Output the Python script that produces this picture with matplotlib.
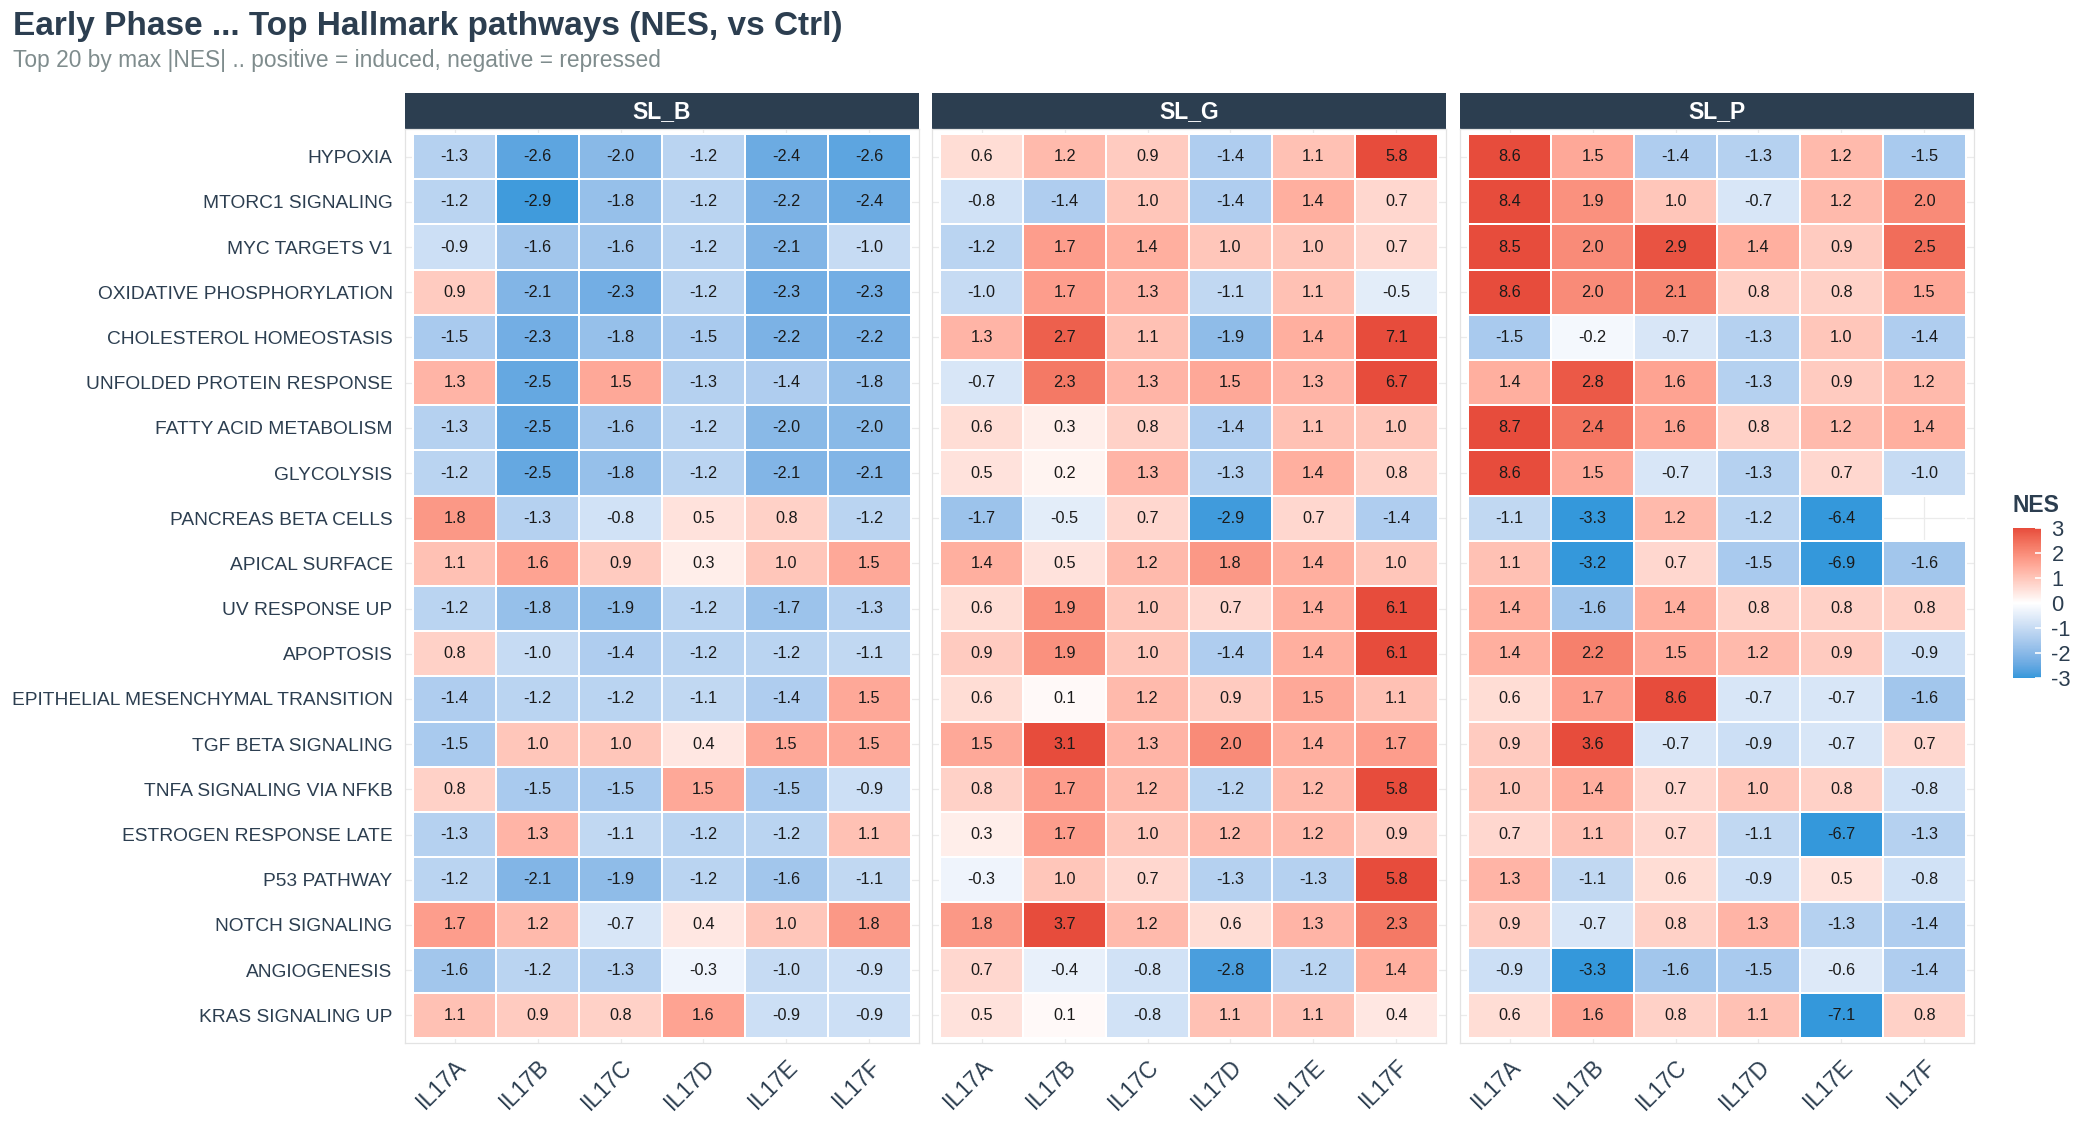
import numpy as np
import matplotlib
matplotlib.use("Agg")
import matplotlib.pyplot as plt
from matplotlib.colors import ListedColormap, Normalize
from matplotlib.patches import Rectangle
from matplotlib.cm import ScalarMappable

plt.rcParams['font.family'] = ['Liberation Sans', 'DejaVu Sans']
plt.rcParams['axes.unicode_minus'] = False

pathways = ["HYPOXIA", "MTORC1 SIGNALING", "MYC TARGETS V1", "OXIDATIVE PHOSPHORYLATION",
            "CHOLESTEROL HOMEOSTASIS", "UNFOLDED PROTEIN RESPONSE", "FATTY ACID METABOLISM",
            "GLYCOLYSIS", "PANCREAS BETA CELLS", "APICAL SURFACE", "UV RESPONSE UP",
            "APOPTOSIS", "EPITHELIAL MESENCHYMAL TRANSITION", "TGF BETA SIGNALING",
            "TNFA SIGNALING VIA NFKB", "ESTROGEN RESPONSE LATE", "P53 PATHWAY",
            "NOTCH SIGNALING", "ANGIOGENESIS", "KRAS SIGNALING UP"]
genes = ["IL17A", "IL17B", "IL17C", "IL17D", "IL17E", "IL17F"]
panels = ["SL_B", "SL_G", "SL_P"]

sl_b = [[-1.3, -2.6, -2.0, -1.2, -2.4, -2.6],
        [-1.2, -2.9, -1.8, -1.2, -2.2, -2.4],
        [-0.9, -1.6, -1.6, -1.2, -2.1, -1.0],
        [0.9, -2.1, -2.3, -1.2, -2.3, -2.3],
        [-1.5, -2.3, -1.8, -1.5, -2.2, -2.2],
        [1.3, -2.5, 1.5, -1.3, -1.4, -1.8],
        [-1.3, -2.5, -1.6, -1.2, -2.0, -2.0],
        [-1.2, -2.5, -1.8, -1.2, -2.1, -2.1],
        [1.8, -1.3, -0.8, 0.5, 0.8, -1.2],
        [1.1, 1.6, 0.9, 0.3, 1.0, 1.5],
        [-1.2, -1.8, -1.9, -1.2, -1.7, -1.3],
        [0.8, -1.0, -1.4, -1.2, -1.2, -1.1],
        [-1.4, -1.2, -1.2, -1.1, -1.4, 1.5],
        [-1.5, 1.0, 1.0, 0.4, 1.5, 1.5],
        [0.8, -1.5, -1.5, 1.5, -1.5, -0.9],
        [-1.3, 1.3, -1.1, -1.2, -1.2, 1.1],
        [-1.2, -2.1, -1.9, -1.2, -1.6, -1.1],
        [1.7, 1.2, -0.7, 0.4, 1.0, 1.8],
        [-1.6, -1.2, -1.3, -0.3, -1.0, -0.9],
        [1.1, 0.9, 0.8, 1.6, -0.9, -0.9]]

sl_g = [[0.6, 1.2, 0.9, -1.4, 1.1, 5.8],
        [-0.8, -1.4, 1.0, -1.4, 1.4, 0.7],
        [-1.2, 1.7, 1.4, 1.0, 1.0, 0.7],
        [-1.0, 1.7, 1.3, -1.1, 1.1, -0.5],
        [1.3, 2.7, 1.1, -1.9, 1.4, 7.1],
        [-0.7, 2.3, 1.3, 1.5, 1.3, 6.7],
        [0.6, 0.3, 0.8, -1.4, 1.1, 1.0],
        [0.5, 0.2, 1.3, -1.3, 1.4, 0.8],
        [-1.7, -0.5, 0.7, -2.9, 0.7, -1.4],
        [1.4, 0.5, 1.2, 1.8, 1.4, 1.0],
        [0.6, 1.9, 1.0, 0.7, 1.4, 6.1],
        [0.9, 1.9, 1.0, -1.4, 1.4, 6.1],
        [0.6, 0.1, 1.2, 0.9, 1.5, 1.1],
        [1.5, 3.1, 1.3, 2.0, 1.4, 1.7],
        [0.8, 1.7, 1.2, -1.2, 1.2, 5.8],
        [0.3, 1.7, 1.0, 1.2, 1.2, 0.9],
        [-0.3, 1.0, 0.7, -1.3, -1.3, 5.8],
        [1.8, 3.7, 1.2, 0.6, 1.3, 2.3],
        [0.7, -0.4, -0.8, -2.8, -1.2, 1.4],
        [0.5, 0.1, -0.8, 1.1, 1.1, 0.4]]

sl_p = [[8.6, 1.5, -1.4, -1.3, 1.2, -1.5],
        [8.4, 1.9, 1.0, -0.7, 1.2, 2.0],
        [8.5, 2.0, 2.9, 1.4, 0.9, 2.5],
        [8.6, 2.0, 2.1, 0.8, 0.8, 1.5],
        [-1.5, -0.2, -0.7, -1.3, 1.0, -1.4],
        [1.4, 2.8, 1.6, -1.3, 0.9, 1.2],
        [8.7, 2.4, 1.6, 0.8, 1.2, 1.4],
        [8.6, 1.5, -0.7, -1.3, 0.7, -1.0],
        [-1.1, -3.3, 1.2, -1.2, -6.4, np.nan],
        [1.1, -3.2, 0.7, -1.5, -6.9, -1.6],
        [1.4, -1.6, 1.4, 0.8, 0.8, 0.8],
        [1.4, 2.2, 1.5, 1.2, 0.9, -0.9],
        [0.6, 1.7, 8.6, -0.7, -0.7, -1.6],
        [0.9, 3.6, -0.7, -0.9, -0.7, 0.7],
        [1.0, 1.4, 0.7, 1.0, 0.8, -0.8],
        [0.7, 1.1, 0.7, -1.1, -6.7, -1.3],
        [1.3, -1.1, 0.6, -0.9, 0.5, -0.8],
        [0.9, -0.7, 0.8, 1.3, -1.3, -1.4],
        [-0.9, -3.3, -1.6, -1.5, -0.6, -1.4],
        [0.6, 1.6, 0.8, 1.1, -7.1, 0.8]]

DARK = "#2C3E50"

# diverging ramp blue - white - red, interpolated in Lab like ggplot
M = np.array([[0.4124, 0.3576, 0.1805],
              [0.2126, 0.7152, 0.0722],
              [0.0193, 0.1192, 0.9505]])
WHITE = np.array([0.95047, 1.0, 1.08883])
D = 6 / 29


def to_lab(hexcol):
    rgb = np.array([int(hexcol[i:i + 2], 16) for i in (1, 3, 5)]) / 255
    c = np.where(rgb <= 0.04045, rgb / 12.92, ((rgb + 0.055) / 1.055) ** 2.4)
    xyz = M @ c / WHITE
    f = np.where(xyz > D ** 3, np.cbrt(xyz), xyz / (3 * D ** 2) + 4 / 29)
    return np.array([116 * f[1] - 16, 500 * (f[0] - f[1]), 200 * (f[1] - f[2])])


def from_lab(lab):
    fy = (lab[0] + 16) / 116
    f = np.array([fy + lab[1] / 500, fy, fy - lab[2] / 200])
    xyz = np.where(f > D, f ** 3, 3 * D ** 2 * (f - 4 / 29)) * WHITE
    c = np.linalg.solve(M, xyz)
    rgb = np.where(c <= 0.0031308, 12.92 * c, 1.055 * np.clip(c, 0, None) ** (1 / 2.4) - 0.055)
    return np.clip(rgb, 0, 1)


low, mid, high = to_lab("#3498DB"), to_lab("#FFFFFF"), to_lab("#E74C3C")
ramp = []
for t in np.linspace(-1, 1, 256):
    end = low if t < 0 else high
    ramp.append(from_lab(mid + abs(t) * (end - mid)))
cmap = ListedColormap(ramp)
norm = Normalize(-3, 3)

fig = plt.figure(figsize=(14, 7.5), dpi=150)

W, H = 2100, 1125
lefts = [405, 932, 1460]
pw = 514
ptop, pbot = 129.5, 1042.5
strip_h = 36

for k, (name, vals) in enumerate(zip(panels, [sl_b, sl_g, sl_p])):
    ax = fig.add_axes([lefts[k] / W, 1 - pbot / H, pw / W, (pbot - ptop) / H])
    z = np.ma.masked_invalid(np.array(vals, dtype=float))
    xe = np.arange(0.5, len(genes) + 1)
    ye = np.arange(0.5, len(pathways) + 1)
    ax.pcolormesh(xe, ye, np.clip(z, -3, 3), cmap=cmap, norm=norm,
                  edgecolors="white", linewidth=0.8, zorder=2)
    for i in range(len(pathways)):
        for j in range(len(genes)):
            v = vals[i][j]
            if not np.isnan(v):
                ax.text(j + 1, i + 1, f"{v:.1f}", ha="center", va="center",
                        fontsize=7.8, color="#1A1A1A", zorder=3)
    ax.set_xlim(0.4, len(genes) + 0.6)
    ax.set_ylim(len(pathways) + 0.6, 0.4)
    ax.set_xticks(range(1, len(genes) + 1))
    ax.set_xticklabels(genes, rotation=45, ha="right", va="top",
                       rotation_mode="anchor", fontsize=11, color=DARK)
    ax.set_yticks(range(1, len(pathways) + 1))
    if k == 0:
        ax.set_yticklabels(pathways, fontsize=9.2, color=DARK)
    else:
        ax.set_yticklabels([])
    ax.tick_params(length=0, pad=6)
    ax.tick_params(axis="x", pad=6)
    ax.grid(True, color="#EBEBEB", linewidth=0.6, zorder=0)
    ax.set_axisbelow(True)
    for s in ax.spines.values():
        s.set_color("#E3E3E3")
        s.set_linewidth(0.6)
    ax.add_patch(Rectangle((0, 1), 1, strip_h / (pbot - ptop), transform=ax.transAxes,
                           facecolor=DARK, edgecolor="none", clip_on=False))
    ax.text(0.5, 1 + strip_h / 2 / (pbot - ptop), name, transform=ax.transAxes,
            ha="center", va="center", color="white", fontsize=11, fontweight="bold")

fig.text(13 / W, 1 - 26 / H, "Early Phase ... Top Hallmark pathways (NES, vs Ctrl)",
         fontsize=16, fontweight="bold", color=DARK, ha="left", va="center")
fig.text(13 / W, 1 - 61 / H, "Top 20 by max |NES| .. positive = induced, negative = repressed",
         fontsize=10.9, color="#7F8C8D", ha="left", va="center")

cax = fig.add_axes([2013 / W, 1 - 678 / H, 28 / W, 150 / H])
cb = fig.colorbar(ScalarMappable(norm=norm, cmap=cmap), cax=cax)
cb.outline.set_visible(False)
cb.set_ticks([-3, -2, -1, 0, 1, 2, 3])
cb.ax.tick_params(direction="in", color="white", length=3, width=0.8,
                  labelsize=10.5, labelcolor=DARK, pad=5)
fig.text(2012 / W, 1 - 505 / H, "NES", fontsize=11, fontweight="bold",
         color=DARK, ha="left", va="center")

fig.savefig("out.png", dpi=150)
